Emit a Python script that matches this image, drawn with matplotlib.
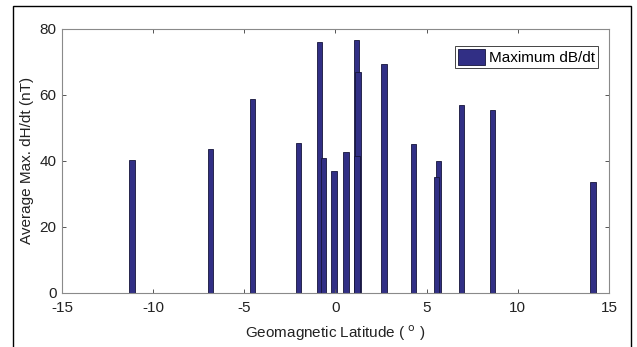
import matplotlib.pyplot as plt
from matplotlib.patches import Rectangle

# --- Data ---
latitude = [-11.17, -6.84, -4.55, -2.02, -0.87, -0.67, -0.07, 0.59,
            1.16, 1.23, 1.18, 2.66, 4.29, 5.64, 5.53, 6.90, 8.61, 14.12]
max_dbdt = [40.1, 43.5, 58.7, 45.4, 76.1, 40.9, 37.0, 42.7,
            76.6, 67.0, 41.4, 69.2, 45.2, 40.0, 35.2, 56.9, 55.4, 33.5]
xticks = [-15, -10, -5, 0, 5, 10, 15]
yticks = [0, 20, 40, 60, 80]

plt.rcParams['font.family'] = ['Liberation Sans', 'DejaVu Sans']
plt.rcParams['axes.unicode_minus'] = False   # plain hyphen like the MATLAB original

fig = plt.figure(figsize=(6.37, 3.47), dpi=100)
ax = fig.add_axes([0.0973, 0.1565, 0.8587, 0.7608])

# outer black frame of the figure
fig.patches.append(Rectangle((0.0204, -0.02), 0.9702, 1.0027, transform=fig.transFigure,
                             fill=False, edgecolor='black', linewidth=1.0))

ax.bar(latitude, max_dbdt, width=0.3, color='#312f85', edgecolor='#15143a',
       linewidth=0.6, label='Maximum dB/dt')

ax.set_xlim(-15, 15)
ax.set_ylim(0, 80)
ax.set_xticks(xticks)
ax.set_yticks(yticks)
ax.tick_params(direction='in', top=True, right=True, length=3, width=0.7,
               color='#555555', labelsize=11, labelcolor='#222222', pad=4)
ax.tick_params(axis='x', pad=6)
for s in ax.spines.values():
    s.set_color('#8a8a8a')
    s.set_linewidth(0.8)

ax.set_xlabel('Geomagnetic Latitude ( $^{\\mathrm{o}}$ )', fontsize=11, color='#222222', labelpad=6)
ax.set_ylabel('Average Max. dH/dt (nT)', fontsize=11, color='#222222', labelpad=4)

leg = ax.legend(loc='upper right', bbox_to_anchor=(0.98, 0.934), borderaxespad=0,
                fontsize=11, fancybox=False, framealpha=1,
                handlelength=1.8, handleheight=1.2, handletextpad=0.25,
                borderpad=0.2)
leg.get_frame().set_edgecolor('#444444')
leg.get_frame().set_linewidth(0.7)

fig.savefig('out.png', dpi=100)
